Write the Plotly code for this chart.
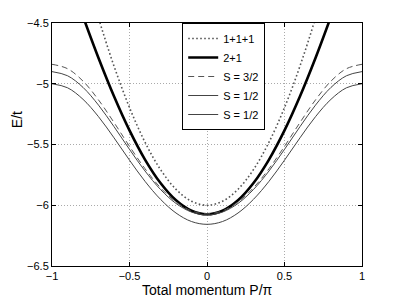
import plotly.graph_objects as go

# momentum P/pi
x_vals = [-1.0, -0.9, -0.8, -0.7, -0.6, -0.5, -0.4, -0.3, -0.2, -0.1, 0.0,
          0.1, 0.2, 0.3, 0.4, 0.5, 0.6, 0.7, 0.8, 0.9, 1.0]

# 1+1+1 continuum edge
e_111 = [-3.000, -3.527, -4.015, -4.459, -4.854, -5.196, -5.481, -5.706, -5.869, -5.967, -6.000,
         -5.967, -5.869, -5.706, -5.481, -5.196, -4.854, -4.459, -4.015, -3.527, -3.000]
# 2+1 continuum edge
e_21 = [-3.718, -4.087, -4.446, -4.788, -5.103, -5.384, -5.624, -5.817, -5.959, -6.045, -6.074,
        -6.045, -5.959, -5.817, -5.624, -5.384, -5.103, -4.788, -4.446, -4.087, -3.718]
# S = 3/2 bound state
e_s32 = [-4.840, -4.876, -4.978, -5.133, -5.319, -5.515, -5.699, -5.856, -5.973, -6.046, -6.070,
         -6.046, -5.973, -5.856, -5.699, -5.515, -5.319, -5.133, -4.978, -4.876, -4.840]
# S = 1/2 bound state (upper)
e_s12a = [-4.900, -4.934, -5.030, -5.176, -5.353, -5.540, -5.718, -5.870, -5.985, -6.056, -6.080,
          -6.056, -5.985, -5.870, -5.718, -5.540, -5.353, -5.176, -5.030, -4.934, -4.900]
# S = 1/2 bound state (lower)
e_s12b = [-5.000, -5.033, -5.128, -5.271, -5.445, -5.629, -5.803, -5.951, -6.064, -6.134, -6.157,
          -6.134, -6.064, -5.951, -5.803, -5.629, -5.445, -5.271, -5.128, -5.033, -5.000]

x_ticks = [-1, -0.5, 0, 0.5, 1]
x_tick_labels = ["\u22121", "\u22120.5", "0", "0.5", "1"]
y_ticks = [-6.5, -6, -5.5, -5, -4.5]
y_tick_labels = ["\u22126.5", "\u22126", "\u22125.5", "\u22125", "\u22124.5"]

x_title = "Total momentum P/\u03c0"
y_title = "E/t"

FONT = "Liberation Sans, Arial, sans-serif"

fig = go.Figure()
fig.add_trace(go.Scatter(x=x_vals, y=e_111, mode="lines", name="1+1+1",
                         line=dict(color="#555555", width=1.6, dash="1.6px,2.4px", shape="spline")))
fig.add_trace(go.Scatter(x=x_vals, y=e_21, mode="lines", name="2+1",
                         line=dict(color="black", width=2.6, shape="spline")))
fig.add_trace(go.Scatter(x=x_vals, y=e_s32, mode="lines", name="S = 3/2",
                         line=dict(color="#555555", width=1.0, dash="6px,4px", shape="spline")))
fig.add_trace(go.Scatter(x=x_vals, y=e_s12a, mode="lines", name="S = 1/2",
                         line=dict(color="#444444", width=1.0, shape="spline")))
fig.add_trace(go.Scatter(x=x_vals, y=e_s12b, mode="lines", name="S = 1/2",
                         line=dict(color="#444444", width=1.0, shape="spline")))

axis_common = dict(
    showline=True, linecolor="black", linewidth=1, mirror="ticks",
    ticks="inside", ticklen=4, tickcolor="black",
    showgrid=True, gridcolor="#aaaaaa", griddash="1px,2px", gridwidth=1,
    zeroline=False, tickfont=dict(family=FONT, size=11, color="black"),
    automargin=False,
)

fig.update_xaxes(range=[-1, 1], tickvals=x_ticks, ticktext=x_tick_labels, **axis_common)
fig.update_yaxes(range=[-6.5, -4.5], tickvals=y_ticks, ticktext=y_tick_labels, **axis_common)

fig.add_annotation(text=x_title, xref="paper", yref="paper", x=0.5, y=0,
                   xanchor="center", yanchor="middle", yshift=-24, showarrow=False,
                   font=dict(family=FONT, size=14, color="black"))
fig.add_annotation(text=y_title, xref="paper", yref="paper", x=0, y=0.6,
                   xanchor="center", yanchor="middle", xshift=-35, textangle=-90,
                   showarrow=False, font=dict(family=FONT, size=14, color="black"))

fig.update_layout(
    width=391, height=292,
    margin=dict(l=44, r=37, t=15, b=34),
    paper_bgcolor="white", plot_bgcolor="white",
    showlegend=True,
    legend=dict(x=0.42, y=1.0, xanchor="left", yanchor="top",
                bgcolor="white", bordercolor="black", borderwidth=1,
                font=dict(family=FONT, size=11, color="black"),
                tracegroupgap=0, itemwidth=30),
    font=dict(family=FONT),
)

fig.write_html("out.html")
